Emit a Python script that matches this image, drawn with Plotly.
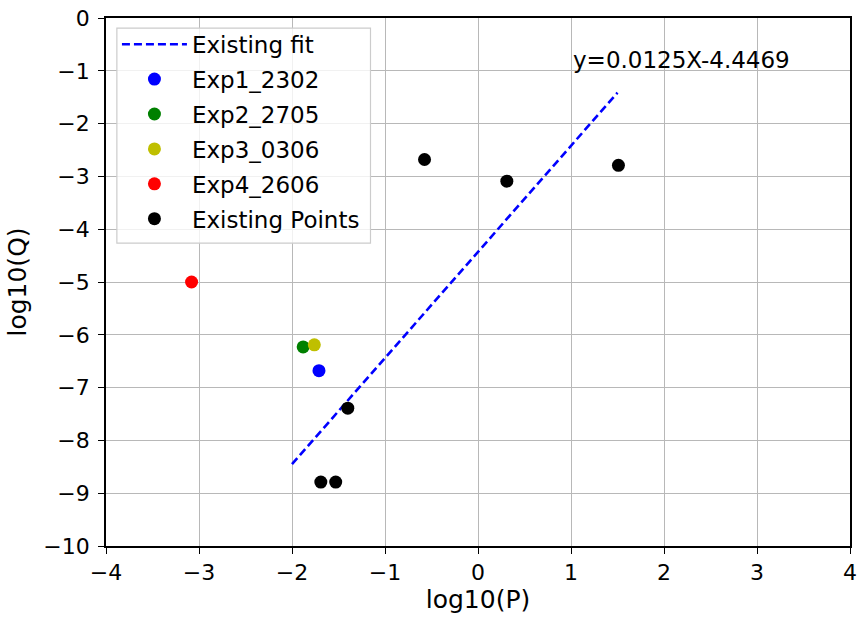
import plotly.graph_objects as go

# Experimental runs (log10 P, log10 Q)
exp1_x, exp1_y = [-1.71], [-6.68]
exp2_x, exp2_y = [-1.88], [-6.23]
exp3_x, exp3_y = [-1.76], [-6.19]
exp4_x, exp4_y = [-3.08], [-5.00]

# Previously published points
exist_x = [-1.40, -1.69, -1.53, -0.575, 0.31, 1.51]
exist_y = [-7.39, -8.79, -8.79, -2.68, -3.09, -2.79]

# Fitted line over the range of the existing data
fit_slope = 2.01
fit_intercept = -4.43
fit_x = [-2.0, 1.5]
fit_y = [fit_slope * x + fit_intercept for x in fit_x]
fit_label = "y=0.0125X-4.4469"

x_ticks = [-4, -3, -2, -1, 0, 1, 2, 3, 4]
y_ticks = list(range(-10, 1))

FONT = "DejaVu Sans"


def minus(v):
    return str(v).replace("-", "\u2212")


fig = go.Figure()
fig.add_trace(go.Scatter(x=fit_x, y=fit_y, mode="lines", name="Existing fit",
                         line=dict(color="#0000ff", width=2.6, dash="8px,4px"),
                         legendgroup="a"))
series = [
    ("Exp1_2302", exp1_x, exp1_y, "#0000ff"),
    ("Exp2_2705", exp2_x, exp2_y, "#008000"),
    ("Exp3_0306", exp3_x, exp3_y, "#bfbf00"),
    ("Exp4_2606", exp4_x, exp4_y, "#ff0000"),
    ("Existing Points", exist_x, exist_y, "#000000"),
]
for i, (name, xs, ys, col) in enumerate(series):
    fig.add_trace(go.Scatter(x=xs, y=ys, mode="markers", name=name,
                             marker=dict(color=col, size=13, line=dict(width=0)),
                             legendgroup=f"g{i}"))

fig.add_annotation(x=1.0, y=-0.8, text=fit_label, showarrow=False,
                   xanchor="left", yanchor="middle",
                   font=dict(family=FONT, size=23, color="#000000"))

# legend frame (semi-transparent white with light border)
fig.add_shape(type="rect", xref="paper", yref="paper",
              x0=0.0146, x1=0.3555, y0=0.5736, y1=0.981,
              line=dict(color="#cccccc", width=1.2),
              fillcolor="rgba(255,255,255,0.8)", layer="above")

axis_common = dict(showline=True, linecolor="#000000", linewidth=1.6, mirror=True,
                   ticks="outside", ticklen=6, tickwidth=1.4, tickcolor="#000000",
                   showgrid=True, gridcolor="#b8b8b8", gridwidth=1.4,
                   zeroline=False, tickfont=dict(family=FONT, size=22, color="#000000"))

fig.update_layout(
    width=863, height=618,
    margin=dict(l=106, r=6, t=16, b=72),
    paper_bgcolor="white", plot_bgcolor="white",
    font=dict(family=FONT, color="#000000"),
    xaxis=dict(range=[-4, 4], tickvals=x_ticks, ticktext=[minus(v) for v in x_ticks],
               title=dict(text="log10(P)", font=dict(family=FONT, size=25), standoff=2),
               **axis_common),
    yaxis=dict(range=[-10, 0], tickvals=y_ticks, ticktext=[minus(v) for v in y_ticks],
               ticklabelstandoff=4,
               title=dict(text="log10(Q)", font=dict(family=FONT, size=25), standoff=10),
               **axis_common),
    legend=dict(x=0.0147, y=0.991, xanchor="left", yanchor="top",
                bgcolor="rgba(0,0,0,0)", borderwidth=0,
                font=dict(family=FONT, size=23, color="#000000"),
                tracegroupgap=2, itemwidth=65),
    showlegend=True,
)

fig.write_html("out.html")
